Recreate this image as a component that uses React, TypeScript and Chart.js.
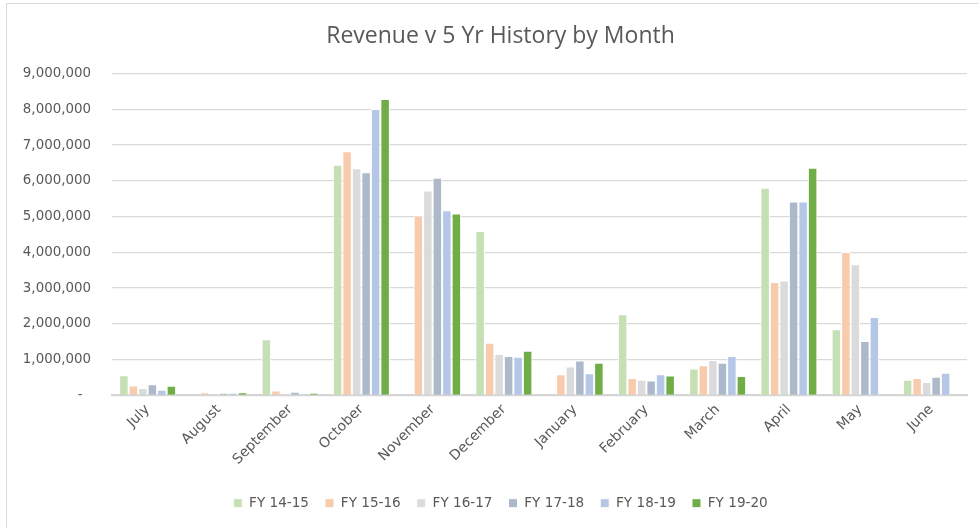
import React, { useEffect, useRef } from "react";
import { Chart, registerables } from "chart.js";

Chart.register(...registerables);

const months = ["July", "August", "September", "October", "November", "December", "January", "February", "March", "April", "May", "June"];
const seriesNames = ["FY 14-15", "FY 15-16", "FY 16-17", "FY 17-18", "FY 18-19", "FY 19-20"];
const fy1415 = [564000, null, 1567000, 6450000, null, 4600000, null, 2270000, 750000, 5810000, 1850000, 440000];
const fy1516 = [280000, 90000, 140000, 6830000, 5030000, 1470000, 590000, 490000, 845000, 3170000, 4010000, 490000];
const fy1617 = [206000, 65000, 40000, 6350000, 5730000, 1160000, 810000, 440000, 990000, 3210000, 3670000, 375000];
const fy1718 = [310000, 70000, 100000, 6240000, 6090000, 1100000, 975000, 420000, 910000, 5420000, 1520000, 520000];
const fy1819 = [160000, 70000, null, 8010000, 5180000, 1080000, 620000, 590000, 1100000, 5420000, 2190000, 630000];
const fy1920 = [270000, 90000, 70000, 8290000, 5090000, 1250000, 910000, 560000, 545000, 6370000, null, null];
const colors = ["#c5e0b4", "#f8cbad", "#dbdbdb", "#adb9ca", "#b4c7e7", "#70ad47"];
const yMax = 9000000;
const yStep = 1000000;

const TITLE_FONT = "'Open Sans', sans-serif";
const FONT = "'DejaVu Sans', sans-serif";
const TEXT = "#595959";

const centerShift = {
  id: "centerShift",
  afterLayout(chart: any) {
    const dx = 17;
    [chart.legend, chart.titleBlock].forEach((b: any) => {
      if (b) {
        b.left += dx;
        b.right += dx;
      }
    });
  },
};

export default function App() {
  const ref = useRef<HTMLCanvasElement | null>(null);
  useEffect(() => {
    if (!ref.current) return;
    const all = [fy1415, fy1516, fy1617, fy1718, fy1819, fy1920];
    const chart = new Chart(ref.current, {
      type: "bar",
      data: {
        labels: months,
        datasets: all.map((d, i) => ({
          label: seriesNames[i],
          data: d,
          backgroundColor: colors[i],
          borderColor: "#ffffff",
          borderWidth: 1,
          categoryPercentage: 0.8,
          barPercentage: 1.0,
        })),
      },
      plugins: [centerShift],
      options: {
        animation: false,
        responsive: false,
        devicePixelRatio: 1,
        layout: { padding: { left: 0, right: 11, top: 0, bottom: 0 } },
        plugins: {
          title: {
            display: true,
            text: "Revenue v 5 Yr History by Month",
            color: TEXT,
            font: { family: TITLE_FONT, size: 23, weight: "normal", lineHeight: 1.2 },
            padding: { top: 23, bottom: 23 },
          },
          legend: {
            position: "bottom",
            labels: {
              boxWidth: 9,
              boxHeight: 9,
              padding: 16,
              color: TEXT,
              font: { family: FONT, size: 13.6 },
            },
          },
          tooltip: { enabled: false },
        },
        scales: {
          x: {
            grid: { display: false, drawTicks: false },
            border: { display: true, color: "#d4d4d4", width: 2 },
            ticks: {
              color: TEXT,
              font: { family: FONT, size: 14 },
              minRotation: 45,
              maxRotation: 45,
              padding: 6,
              autoSkip: false,
            },
            afterFit: (scale: any) => {
              scale.height = 85;
            },
          },
          y: {
            min: 0,
            max: yMax,
            grid: { color: "#d9d9d9", lineWidth: 1.3, drawTicks: false },
            border: { display: false },
            ticks: {
              stepSize: yStep,
              color: TEXT,
              padding: 21,
              font: { family: FONT, size: 13.4 },
              callback: (v: any) => (Number(v) === 0 ? "-  " : Number(v).toLocaleString("en-US")),
            },
            afterFit: (scale: any) => {
              scale.width = 112;
            },
          },
        },
      },
    });
    return () => chart.destroy();
  }, []);

  return (
    <div style={{ position: "fixed", left: 0, top: 0, width: 978, height: 528, overflow: "hidden", background: "#ffffff" }}>
      <div style={{ position: "absolute", left: 6, top: 3, width: 1000, height: 600, border: "1px solid #d9d9d9", boxSizing: "border-box" }} />
      <canvas ref={ref} width={978} height={520} style={{ position: "absolute", left: 0, top: 0, width: 978, height: 520 }} />
    </div>
  );
}
